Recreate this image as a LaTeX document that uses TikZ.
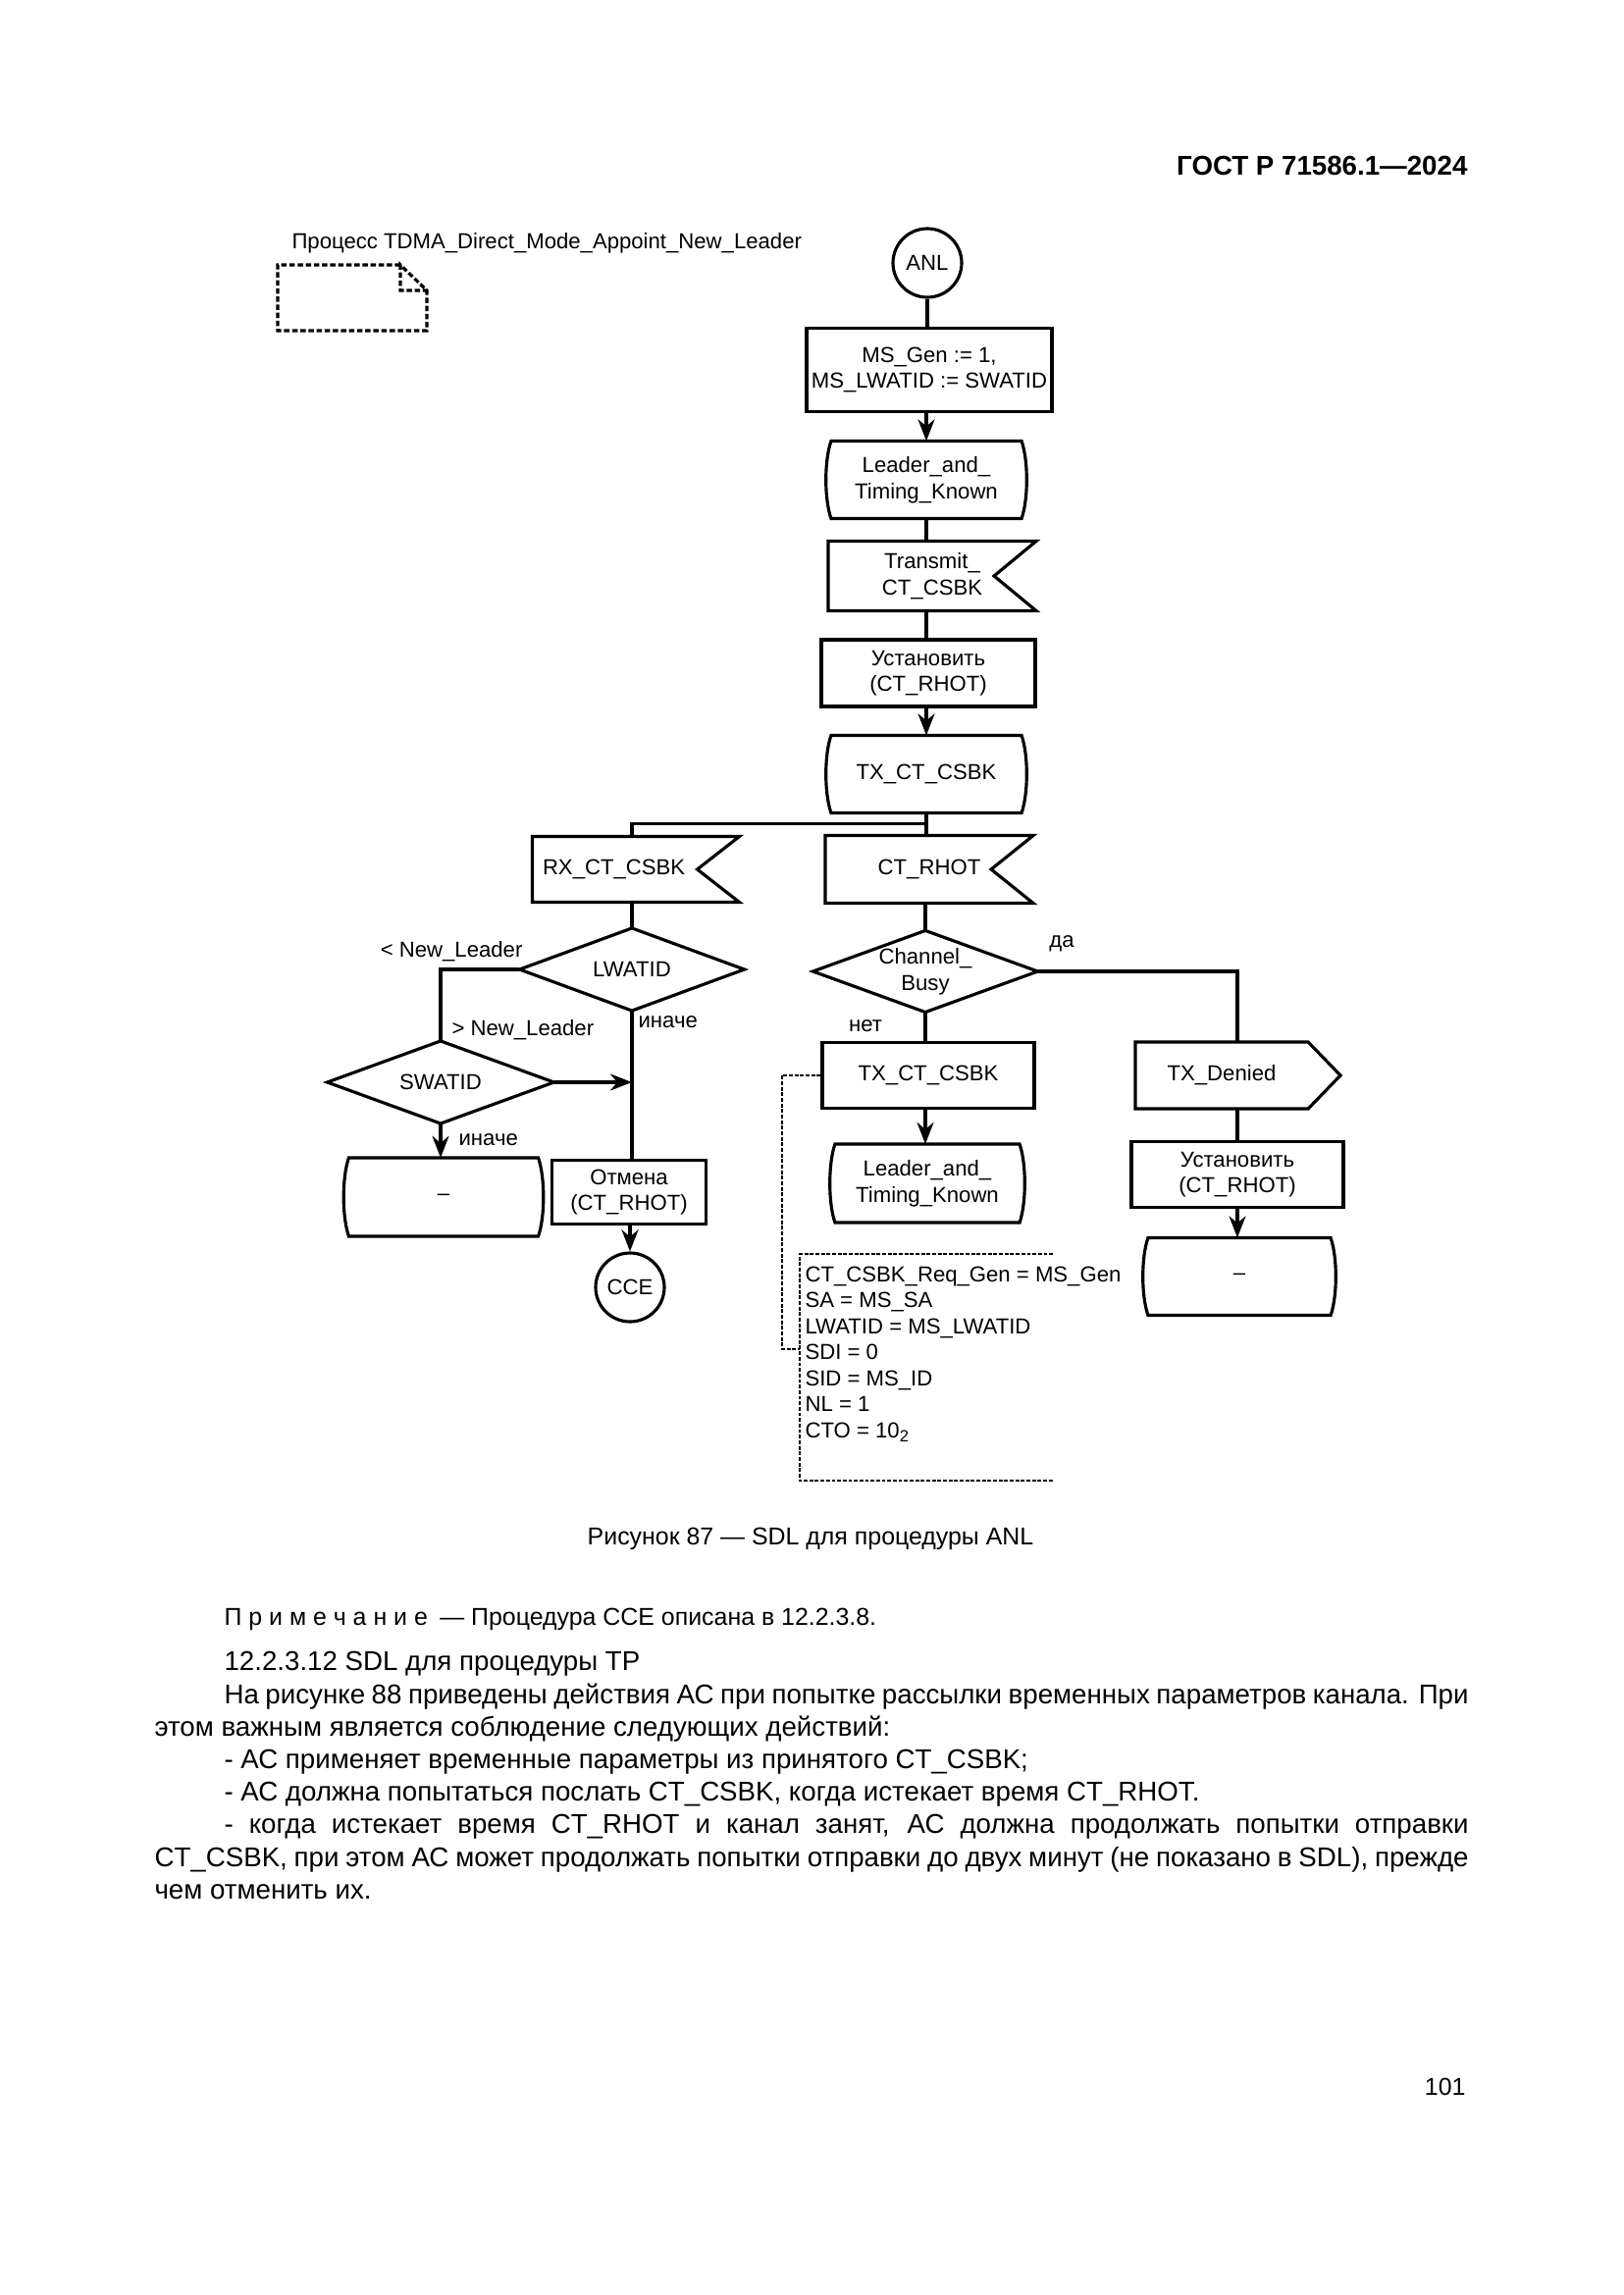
\documentclass[tikz,border=0pt]{standalone}
\usepackage{fontspec}
\setmainfont{Liberation Sans}
\usepackage{tikz}
\usetikzlibrary{arrows.meta}
\newlength{\unitpx}
\setlength{\unitpx}{0.126965mm}
\newcommand{\sdlfont}{\fontsize{8}{9.6}\selectfont}
\newcommand{\redline}{\hspace*{71\unitpx}}
% SDL outlines drawn round plain nodes
\newcommand{\stateshape}[1]{%
  \draw[sdl] ([xshift=5\unitpx]#1.north west) -- ([xshift=-5\unitpx]#1.north east)
    .. controls ([xshift=2\unitpx, yshift=-20\unitpx]#1.north east) and ([xshift=2\unitpx, yshift=20\unitpx]#1.south east) .. ([xshift=-5\unitpx]#1.south east)
    -- ([xshift=5\unitpx]#1.south west)
    .. controls ([xshift=-2\unitpx, yshift=20\unitpx]#1.south west) and ([xshift=-2\unitpx, yshift=-20\unitpx]#1.north west) .. ([xshift=5\unitpx]#1.north west) -- cycle;}
\newcommand{\inshape}[1]{%
  \draw[sdl] (#1.north west) -- (#1.north east) -- ([xshift=-43\unitpx]#1.east)
    -- (#1.south east) -- (#1.south west) -- cycle;}
\newcommand{\outshape}[1]{%
  \draw[sdl] (#1.north west) -- (#1.north east) -- ([xshift=33\unitpx]#1.east)
    -- (#1.south east) -- (#1.south west) -- cycle;}
\newcommand{\decshape}[1]{%
  \draw[sdl] (#1.north) -- (#1.east) -- (#1.south) -- (#1.west) -- cycle;}

\begin{document}
\begin{tikzpicture}[
    x=0.126965mm, y=-0.126965mm,
    sdl/.style={line width=0.4mm},
    task/.style={draw, sdl, font=\sdlfont, align=center, inner sep=1pt},
    sdlstate/.style={font=\sdlfont, align=center, inner sep=1pt, minimum height=78\unitpx},
    insig/.style={font=\sdlfont, align=center, inner sep=1pt},
    outsig/.style={font=\sdlfont, align=center, inner sep=1pt},
    decision/.style={font=\sdlfont, align=center, inner sep=0pt, minimum width=228\unitpx, minimum height=83\unitpx},
    terminal/.style={circle, draw, sdl, font=\sdlfont, inner sep=0pt, minimum size=70\unitpx},
    flow/.style={sdl},
    flowarrow/.style={sdl, -{Stealth[length=2.8mm, width=2.15mm, inset=0.9mm]}},
    comm/.style={line width=0.34mm, dash pattern=on 0.5mm off 0.22mm},
    procline/.style={line width=0.42mm, dash pattern=on 0.7mm off 0.35mm},
    tag/.style={font=\sdlfont, inner sep=0pt},
    pagetext/.style={inner sep=0pt}
]
\useasboundingbox (0,0) rectangle (1654,2339);

\node[pagetext, anchor=east, font=\bfseries\fontsize{10}{12}\selectfont] (gost) at (1496,169) {ГОСТ Р 71586.1\textemdash 2024};
\node[pagetext, anchor=west, font=\sdlfont] (proc) at (297,248) {Процесс TDMA\_Direct\_Mode\_Appoint\_New\_Leader};
\draw[procline] (408,270) -- (283,270) -- (283,337) -- (435,337) -- (435,296) -- (408,270) -- (408,296) -- (435,296);

% main column
\node[terminal] (anl) at (945,268) {ANL};
\node[task, inner xsep=0pt, minimum width=250\unitpx, minimum height=85\unitpx] (init) at (947,377) {MS\_Gen := 1,\\MS\_LWATID := SWATID};
\node[sdlstate, minimum width=203\unitpx] (lead1) at (944,489) {Leader\_and\_\\Timing\_Known};
\node[insig, minimum width=211\unitpx, minimum height=70\unitpx] (tx1) at (950,587) {Transmit\_\\CT\_CSBK};
\node[task, minimum width=218\unitpx, minimum height=68\unitpx] (set1) at (946,686) {Установить\\(CT\_RHOT)};
\node[sdlstate, minimum width=203\unitpx] (txst) at (944,789) {TX\_CT\_CSBK};

% left branch
\node[insig, text width=190\unitpx, align=left, minimum width=210\unitpx, minimum height=66\unitpx] (rx) at (648,886) {RX\_CT\_CSBK};
\node[decision] (lwatid) at (644,988) {LWATID};
\node[decision, minimum width=230\unitpx] (swatid) at (449,1103) {SWATID};
\node[sdlstate, minimum width=202\unitpx, minimum height=79\unitpx] (left) at (452,1220) {\textendash};
\node[task, minimum width=157\unitpx, minimum height=65\unitpx] (cancel) at (641,1215) {Отмена\\(CT\_RHOT)};
\node[terminal] (cce) at (642,1312) {CCE};

% right branch
\node[insig, minimum width=211\unitpx, minimum height=68\unitpx] (rhot) at (947,886) {CT\_RHOT};
\node[decision, minimum height=82\unitpx] (busy) at (943,990) {Channel\_\\Busy};
\node[task, minimum width=216\unitpx, minimum height=67\unitpx] (txrect) at (946,1096) {TX\_CT\_CSBK};
\node[sdlstate, minimum width=197\unitpx, minimum height=79\unitpx] (lead2) at (945,1206) {Leader\_and\_\\Timing\_Known};
\node[outsig, minimum width=175\unitpx, minimum height=67\unitpx] (txden) at (1245,1096) {TX\_Denied};
\node[task, minimum width=216\unitpx, minimum height=67\unitpx] (set2) at (1261,1197) {Установить\\(CT\_RHOT)};
\node[sdlstate, minimum width=195\unitpx] (right) at (1263,1301) {\textendash};

\node[inner sep=0pt, minimum width=257\unitpx, minimum height=230\unitpx, anchor=north west] (cmtbox) at (815,1278) {};
\node[tag, align=left, anchor=north west] (cmt) at (820,1290) {CT\_CSBK\_Req\_Gen = MS\_Gen\\SA = MS\_SA\\LWATID = MS\_LWATID\\SDI = 0\\SID = MS\_ID\\NL = 1\\CTO = 10\textsubscript{2}};

\stateshape{lead1}
\stateshape{txst}
\stateshape{left}
\stateshape{lead2}
\stateshape{right}
\inshape{tx1}
\inshape{rx}
\inshape{rhot}
\outshape{txden}
\decshape{lwatid}
\decshape{swatid}
\decshape{busy}

\draw[flow] (anl) -- (anl |- init.north);
\draw[flowarrow] (lead1 |- init.south) -- (lead1.north);
\draw[flow] (lead1.south) -- (lead1.south |- tx1.north);
\draw[flow] (lead1.south |- tx1.south) -- (lead1.south |- set1.north);
\draw[flowarrow] (txst |- set1.south) -- (txst.north);
\draw[flow] (txst.south) -- (txst.south |- rhot.north);
\path (txst.south) -- coordinate[pos=0.46] (fork) (txst.south |- rhot.north);
\draw[flow] (fork) -| (lwatid |- rx.north);
\draw[flow] (lwatid |- rx.south) -- (lwatid.north);
\draw[flow] (lwatid.west) -| (swatid.north);
\draw[flowarrow] (swatid.east) -- (swatid.east -| lwatid.south);
\draw[flow] (lwatid.south) -- (lwatid.south |- cancel.north);
\draw[flowarrow] (swatid.south) -- (swatid.south |- left.north);
\draw[flowarrow] (cce |- cancel.south) -- (cce.north);
\draw[flow] (busy |- rhot.south) -- (busy.north);
\draw[flow] (busy.south) -- (busy.south |- txrect.north);
\draw[flow] (busy.east) -| (set2 |- txden.north);
\draw[flowarrow] (busy.south |- txrect.south) -- (busy.south |- lead2.north);
\draw[flow] (set2 |- txden.south) -- (set2.north);
\draw[flowarrow] (set2.south) -- (set2.south |- right.north);

\node[tag, anchor=east] (lt) at (533,970) {< New\_Leader};
\node[tag, anchor=west] (gt) at (460,1050) {> New\_Leader};
\node[tag, anchor=west] (else1) at (650,1042) {иначе};
\node[tag, anchor=west] (else2) at (467,1162) {иначе};
\node[tag] (yes) at (1082,962) {да};
\node[tag] (no) at (882,1046) {нет};

\coordinate (cbend) at (797,1375);
\draw[comm] (txrect.west) -| (cbend) -- (cbend -| cmtbox.west);
\draw[comm] (cmtbox.north east) -- (cmtbox.north west) -- (cmtbox.south west) -- (cmtbox.south east);

\node[pagetext, font=\fontsize{9}{11}\selectfont] (cap) at (826,1568) {Рисунок 87 \textemdash{} SDL для процедуры ANL};
\node[pagetext, anchor=west, font=\fontsize{9}{11}\selectfont] (note) at (228,1650) {П р и м е ч а н и е\enspace\textemdash{} Процедура CCE описана в 12.2.3.8.};
\node[pagetext, anchor=north west, text width=1339\unitpx, align=justify, font=\fontsize{10}{12}\selectfont] (body) at (157,1683) {\hyphenpenalty=10000
\redline 12.2.3.12 SDL для процедуры TP\par
\redline На рисунке 88 приведены действия АС при попытке рассылки временных параметров канала. При\linebreak этом важным является соблюдение следующих действий:\par
\redline - АС применяет временные параметры из принятого CT\_CSBK;\par
\redline - АС должна попытаться послать CT\_CSBK, когда истекает время CT\_RHOT.\par
\redline - когда истекает время CT\_RHOT и канал занят, АС должна продолжать попытки отправки\linebreak CT\_CSBK, при этом АС может продолжать попытки отправки до двух минут (не показано в SDL), прежде\linebreak чем отменить их.};
\node[pagetext, anchor=east, font=\fontsize{9}{11}\selectfont] (pnum) at (1494,2127) {101};
\end{tikzpicture}
\end{document}
